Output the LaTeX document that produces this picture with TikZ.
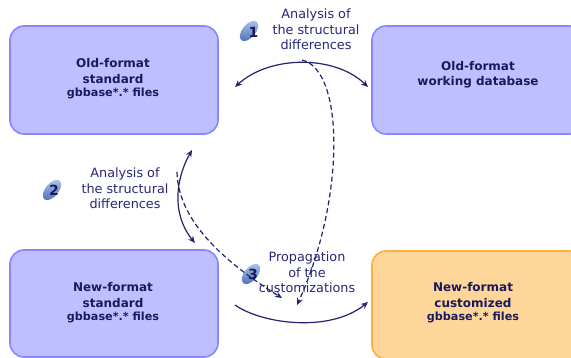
\documentclass[tikz,border=0pt]{standalone}
\usepackage{fontspec}
\setmainfont{DejaVu Sans}
\usetikzlibrary{arrows.meta,shapes.geometric}
\definecolor{boxfill}{RGB}{191,191,255}
\definecolor{boxline}{RGB}{135,135,255}
\definecolor{orfill}{RGB}{255,214,153}
\definecolor{orline}{RGB}{255,175,60}
\definecolor{navy}{RGB}{25,25,95}
\definecolor{lbl}{RGB}{40,40,120}
\definecolor{arr}{RGB}{35,35,110}
\definecolor{badgeA}{RGB}{175,198,235}
\definecolor{badgeB}{RGB}{85,118,188}
\begin{document}
\begin{tikzpicture}[x=1pt,y=-1pt,
 box/.style={draw=boxline,fill=boxfill,line width=1.6pt,rounded corners=14pt,minimum width=208pt,minimum height=108pt,inner sep=0pt},
 obox/.style={box,draw=orline,fill=orfill},
 title/.style={text=navy,font=\fontsize{12}{15.5}\selectfont\bfseries,align=center,inner sep=0pt},
 small/.style={},
 lab/.style={text=lbl,font=\fontsize{12.8}{15.5}\selectfont,align=center,inner sep=0pt},
 conn/.style={draw=arr,line width=1.2pt},
 dconn/.style={conn,dash pattern=on 5pt off 3pt},
 tipend/.style={-{Stealth[length=7pt,width=6pt]}},
 tipboth/.style={{Stealth[length=7pt,width=6pt]}-{Stealth[length=7pt,width=6pt]}},
 badge/.style={ellipse,minimum width=24pt,minimum height=13pt,inner sep=0pt,rotate=50,top color=badgeA,bottom color=badgeB},
 num/.style={text=navy,font=\fontsize{14}{14}\selectfont\bfseries,inner sep=0pt}
]
\useasboundingbox (0,0) rectangle (571,358);
\clip (0,0) rectangle (571,358);
\fill[white] (0,0) rectangle (571,358);

% boxes
\node[box] (b1) at (114,80) {};
\node[box,minimum width=212pt] (b2) at (478,80) {};
\node[box,minimum height=107pt] (b3) at (114,303.5) {};
\node[obox,minimum width=212pt] (b4) at (478,305) {};

\node[title] (t1) at (113,78.5) {Old-format\\standard\\[-2.5pt]{\fontsize{11.2}{13}\selectfont gbbase*.* files}};
\node[title] (t2) at (478,74.5) {Old-format\\working database};
\node[title] (t3) at (113,302.5) {New-format\\standard\\[-2.5pt]{\fontsize{11.2}{13}\selectfont gbbase*.* files}};
\node[title] (t4) at (473,302.5) {New-format\\customized\\[-2.5pt]{\fontsize{11.2}{13}\selectfont gbbase*.* files}};

% labels
\node[lab] (l1) at (316,29.5) {Analysis of\\the structural\\differences};
\node[lab] (l2) at (125,188.5) {Analysis of\\the structural\\differences};
\node[lab] (l3) at (307,272.5) {Propagation\\of the\\customizations};

% badges
\node[badge] (g1) at (249,31) {};
\node[num] (n1) at (253.5,32.5) {1};
\node[badge] (g2) at (52,190) {};
\node[num] (n2) at (54,190.5) {2};
\node[badge] (g3) at (251,274) {};
\node[num] (n3) at (253,274.5) {3};

% connector end points
\coordinate (c1a) at (235,87);
\coordinate (c1b) at (368,87);
\coordinate (d1a) at (302,60);
\coordinate (d1b) at (297,305);
\coordinate (c2a) at (192,150);
\coordinate (c2b) at (195,243);
\coordinate (d2a) at (177,172);
\coordinate (d2b) at (282,298);
\coordinate (c3a) at (235,305);
\coordinate (c3b) at (368,302);

\draw[conn,tipboth] (c1a) .. controls (270,55) and (335,55) .. (c1b);
\draw[dconn,tipend] (d1a) .. controls (345,70) and (345,200) .. (d1b);
\draw[conn,tipboth] (c2a) .. controls (175,180) and (172,215) .. (c2b);
\draw[dconn,tipend] (d2a) .. controls (178,210) and (205,250) .. (d2b);
\draw[conn,tipend] (c3a) .. controls (262,324) and (330,333) .. (c3b);
\end{tikzpicture}
\end{document}
